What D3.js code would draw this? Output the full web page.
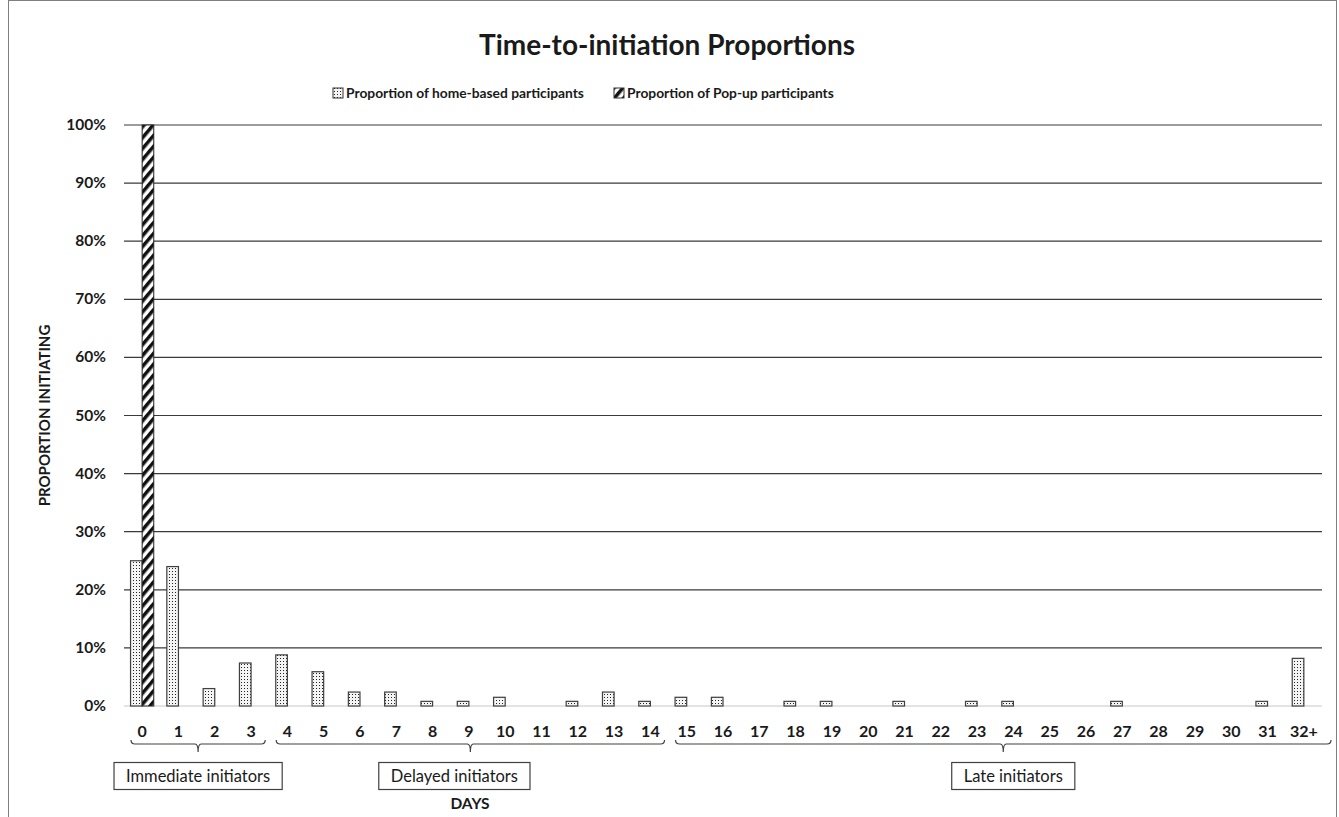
<!DOCTYPE html>
<html>
<head>
<meta charset="utf-8">
<script src="https://cdn.jsdelivr.net/npm/d3@7"></script>
<style>
  body { margin: 0; background: #fff; }
  text { font-family: Lato, "Open Sans", sans-serif; fill: #1a1a1a; }
</style>
</head>
<body>
<div id="chartdiv"></div>
<script>
// data
var days = ["0","1","2","3","4","5","6","7","8","9","10","11","12","13","14","15","16",
            "17","18","19","20","21","22","23","24","25","26","27","28","29","30","31","32+"];
var homeBased = [25, 24, 3, 7.4, 8.8, 5.9, 2.4, 2.4, 0.8, 0.8, 1.5, 0, 0.8, 2.4, 0.8, 1.5, 1.5,
                 0, 0.8, 0.8, 0, 0.8, 0, 0.8, 0.8, 0, 0, 0.8, 0, 0, 0, 0.8, 8.2];
var popUp = [100, 0, 0, 0, 0, 0, 0, 0, 0, 0, 0, 0, 0, 0, 0, 0, 0,
             0, 0, 0, 0, 0, 0, 0, 0, 0, 0, 0, 0, 0, 0, 0, 0];
var seriesNames = ["Proportion of home-based participants", "Proportion of Pop-up participants"];
var yTicks = [0, 10, 20, 30, 40, 50, 60, 70, 80, 90, 100];
var groupLabels = ["Immediate initiators", "Delayed initiators", "Late initiators"];
var groupFrom = ["0", "4", "15"];
var groupTo = ["3", "14", "32+"];

var width = 1339, height = 817;
var plotLeft = 124, plotRight = 1322, plotTop = 125, plotBottom = 706;

var svg = d3.select("div#chartdiv").append("svg")
            .attr("width", width)
            .attr("height", height);

// patterns
var defs = svg.append("defs");
var dots = defs.append("pattern")
    .attr("id", "dots")
    .attr("patternUnits", "userSpaceOnUse")
    .attr("width", 3).attr("height", 3);
dots.append("rect").attr("width", 3).attr("height", 3).attr("fill", "#f4f4f4");
dots.append("rect").attr("x", 1).attr("y", 1).attr("width", 1).attr("height", 1).attr("fill", "#222");

var stripes = defs.append("pattern")
    .attr("id", "stripes")
    .attr("patternUnits", "userSpaceOnUse")
    .attr("width", 7).attr("height", 7)
    .attr("patternTransform", "rotate(40)");
stripes.append("rect").attr("width", 7).attr("height", 7).attr("fill", "#fff");
stripes.append("rect").attr("x", 0).attr("width", 3.5).attr("height", 7).attr("fill", "#111");

// frame
svg.append("rect")
   .attr("x", 8.5).attr("y", 0.5)
   .attr("width", 1328).attr("height", 840)
   .attr("fill", "none").attr("stroke", "#7f7f7f");

var x = d3.scaleBand().domain(days).range([plotLeft, plotRight]).paddingInner(0.36).paddingOuter(0.18);
var x2 = d3.scaleBand().domain([0, 1]).range([0, x.bandwidth()]);
var y = d3.scaleLinear().domain([0, 100]).range([plotBottom, plotTop]);

// gridlines
svg.selectAll("line.grid")
   .data(yTicks.filter(function (d) { return d > 0; }))
   .enter().append("line")
   .attr("class", "grid")
   .attr("x1", plotLeft).attr("x2", plotRight)
   .attr("y1", function (d) { return y(d); })
   .attr("y2", function (d) { return y(d); })
   .attr("stroke", "#3a3a3a").attr("stroke-width", 1.2);

svg.append("line")
   .attr("x1", plotLeft).attr("x2", plotRight)
   .attr("y1", y(0)).attr("y2", y(0))
   .attr("stroke", "#c8c8c8").attr("stroke-width", 1.2);

// y tick labels
svg.selectAll("text.ytick")
   .data(yTicks)
   .enter().append("text")
   .attr("class", "ytick")
   .attr("x", 106)
   .attr("y", function (d) { return y(d) + 5; })
   .attr("text-anchor", "end")
   .attr("font-size", 15.5).attr("font-weight", "bold")
   .text(function (d) { return d + "%"; });

// bars
var barData = days.map(function (d, i) { return {day: d, home: homeBased[i], pop: popUp[i]}; });

svg.selectAll("rect.home")
   .data(barData.filter(function (d) { return d.home > 0; }))
   .enter().append("rect")
   .attr("class", "home")
   .attr("x", function (d) { return x(d.day) + x2(0); })
   .attr("y", function (d) { return y(d.home); })
   .attr("width", x2.bandwidth())
   .attr("height", function (d) { return y(0) - y(d.home); })
   .attr("fill", "url(#dots)")
   .attr("stroke", "#404040").attr("stroke-width", 1.2);

svg.selectAll("rect.pop")
   .data(barData.filter(function (d) { return d.pop > 0; }))
   .enter().append("rect")
   .attr("class", "pop")
   .attr("x", function (d) { return x(d.day) + x2(1); })
   .attr("y", function (d) { return y(d.pop); })
   .attr("width", x2.bandwidth())
   .attr("height", function (d) { return y(0) - y(d.pop); })
   .attr("fill", "url(#stripes)")
   .attr("stroke", "#222").attr("stroke-width", 1);

// x tick labels
svg.selectAll("text.xtick")
   .data(days)
   .enter().append("text")
   .attr("class", "xtick")
   .attr("x", function (d) { return x(d) + x.bandwidth() / 2; })
   .attr("y", 737)
   .attr("text-anchor", "middle")
   .attr("font-size", 16).attr("font-weight", "bold")
   .text(function (d) { return d; });

// braces under the day groups
var boxShift = [0, -16, 10];
groupLabels.forEach(function (label, i) {
    var gap = (x.step() - x.bandwidth()) / 2;
    var x0 = x(groupFrom[i]) - gap + 7;
    var x1 = x(groupTo[i]) + x.bandwidth() + gap - 4;
    if (i == 2) x1 = 1331;
    var mid = (x0 + x1) / 2;
    var yt = 740, yb = 744;
    var p = "M" + x0 + "," + yt + " Q" + x0 + "," + yb + " " + (x0 + 4) + "," + yb +
            " L" + (mid - 3) + "," + yb + " Q" + mid + "," + yb + " " + mid + "," + (yb + 8) +
            " Q" + mid + "," + yb + " " + (mid + 3) + "," + yb +
            " L" + (x1 - 4) + "," + yb + " Q" + x1 + "," + yb + " " + x1 + "," + yt;
    svg.append("path").attr("d", p).attr("fill", "none")
       .attr("stroke", "#404040").attr("stroke-width", 1.2);

    var cx = mid + boxShift[i];
    var t = svg.append("text")
       .attr("x", cx).attr("y", 782)
       .attr("text-anchor", "middle")
       .attr("font-size", 16.5)
       .text(label);
    var w = t.node().getComputedTextLength() + 24;
    svg.insert("rect", "text")
       .attr("x", cx - w / 2).attr("y", 762.5)
       .attr("width", w).attr("height", 27)
       .attr("fill", "#fff").attr("stroke", "#404040").attr("stroke-width", 1.2);
});

// titles
svg.append("text")
   .attr("x", 667).attr("y", 55)
   .attr("text-anchor", "middle")
   .attr("font-size", 28).attr("font-weight", "bold")
   .text("Time-to-initiation Proportions");

svg.append("text")
   .attr("transform", "translate(50," + ((plotTop + plotBottom) / 2) + ") rotate(-90)")
   .attr("text-anchor", "middle")
   .attr("font-size", 15).attr("font-weight", "bold")
   .text("PROPORTION INITIATING");

svg.append("text")
   .attr("x", 470).attr("y", 809)
   .attr("text-anchor", "middle")
   .attr("font-size", 15.5).attr("font-weight", "bold")
   .text("DAYS");

// legend
var legendX = [333, 614];
var legendFill = ["url(#dots)", "url(#stripes)"];
seriesNames.forEach(function (name, i) {
    svg.append("rect")
       .attr("x", legendX[i]).attr("y", 88)
       .attr("width", 10).attr("height", 10)
       .attr("fill", legendFill[i]).attr("stroke", "#333");
    svg.append("text")
       .attr("x", legendX[i] + 13).attr("y", 98)
       .attr("font-size", 13.8).attr("font-weight", "bold")
       .text(name);
});
</script>
</body>
</html>
